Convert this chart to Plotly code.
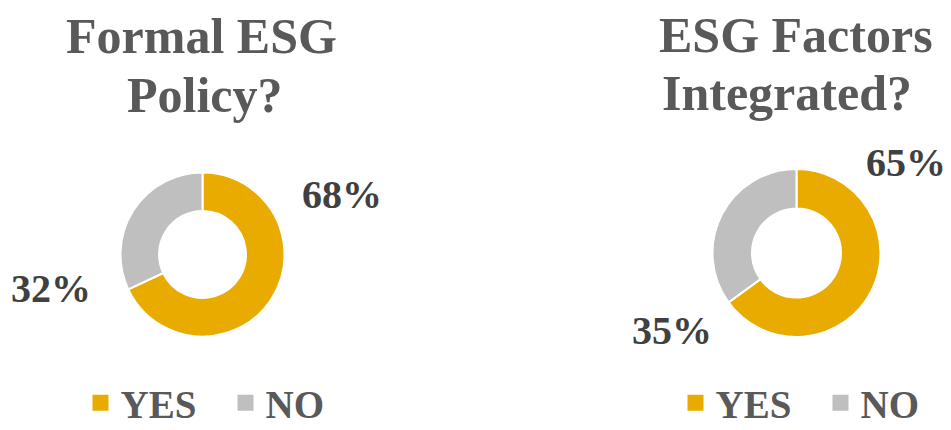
import plotly.graph_objects as go

labels = ["YES", "NO"]
policy_values = [68, 32]
integrated_values = [65, 35]
titles = [["Formal ESG", "Policy?"], ["ESG Factors", "Integrated?"]]
colors = ["#EAAB00", "#BFBFBF"]

W, H = 951, 430
FONT = "Liberation Serif, Times New Roman, serif"
TITLE_C = "#595959"
LABEL_C = "#404040"

def px_x(x):
    return x / W

def px_y(y):
    return 1 - y / H

def dom(cx, cy, r):
    return dict(x=[px_x(cx - r), px_x(cx + r)], y=[px_y(cy + r), px_y(cy - r)])

fig = go.Figure()
fig.add_trace(go.Pie(
    labels=labels, values=policy_values, hole=0.53, sort=False,
    direction="clockwise", rotation=0, textinfo="none", hoverinfo="label+percent",
    marker=dict(colors=colors, line=dict(color="white", width=2)),
    domain=dom(202.5, 254.5, 82), showlegend=False,
))
fig.add_trace(go.Pie(
    labels=labels, values=integrated_values, hole=0.53, sort=False,
    direction="clockwise", rotation=0, textinfo="none", hoverinfo="label+percent",
    marker=dict(colors=colors, line=dict(color="white", width=2)),
    domain=dom(796.5, 253, 84), showlegend=False,
))

# legend entries (one legend under each donut)
for leg in ["legend", "legend2"]:
    for lab, col in zip(labels, colors):
        fig.add_trace(go.Scatter(
            x=[None], y=[None], mode="markers", name=lab,
            marker=dict(symbol="square", size=16, color=col),
            legend=leg, showlegend=True, hoverinfo="skip",
        ))

annotations = []
title_pos = [([201, 204.5], [36, 95]), ([796, 787], [35, 93])]
for (xs, ys), lines in zip(title_pos, titles):
    for x, y, t in zip(xs, ys, lines):
        annotations.append(dict(
            text=t, x=px_x(x), y=px_y(y), xref="paper", yref="paper",
            xanchor="center", yanchor="middle", showarrow=False,
            font=dict(family=FONT, size=50, color=TITLE_C, weight="bold"),
        ))

label_pos = [[(342, 194), (51, 288)], [(906, 163), (672, 330)]]
for vals, poss in zip([policy_values, integrated_values], label_pos):
    tot = sum(vals)
    for v, (x, y) in zip(vals, poss):
        annotations.append(dict(
            text=f"{round(100 * v / tot)}%", x=px_x(x), y=px_y(y),
            xref="paper", yref="paper", xanchor="center", yanchor="middle",
            showarrow=False,
            font=dict(family=FONT, size=40, color=LABEL_C, weight="bold"),
        ))

legend_common = dict(
    orientation="h", yanchor="middle", xanchor="center",
    font=dict(family=FONT, size=39, color=TITLE_C, weight="bold"),
    bgcolor="rgba(0,0,0,0)", entrywidth=100, entrywidthmode="pixels",
    itemclick=False, itemdoubleclick=False,
)

fig.update_layout(
    width=W, height=H,
    margin=dict(l=0, r=0, t=0, b=0, autoexpand=False),
    paper_bgcolor="white", plot_bgcolor="white",
    showlegend=True,
    xaxis=dict(visible=False), yaxis=dict(visible=False),
    legend=dict(x=px_x(225.5), y=px_y(403), **legend_common),
    legend2=dict(x=px_x(820.5), y=px_y(403), **legend_common),
    annotations=annotations,
)

fig.write_html("out.html", config={"displayModeBar": False},
               post_script="document.body.style.margin='0';")
